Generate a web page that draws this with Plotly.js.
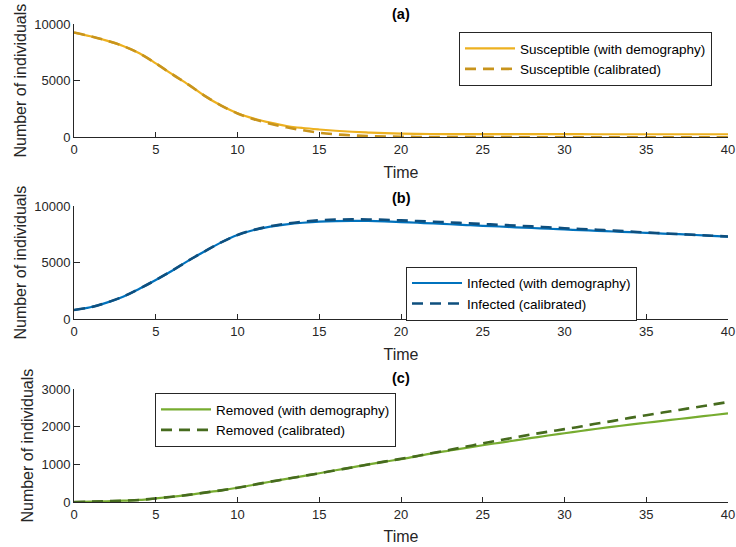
<!DOCTYPE html>
<html>
<head>
<meta charset="utf-8">
<script src="https://cdn.plot.ly/plotly-3.0.1.min.js"></script>
<style>html,body{margin:0;padding:0;background:#fff}#chart{width:736px;height:547px}</style>
</head>
<body>
<div id="chart"></div>
<script>
// ---- data ----
const time = [0,1,2,3,4,5,6,7,8,9,10,11,12,13,14,15,16,17,18,19,20,21,22,23,24,25,26,27,28,29,30,31,32,33,34,35,36,37,38,39,40];

const susceptibleDemography = [9250,8920,8530,8060,7410,6530,5570,4650,3650,2800,2120,1650,1290,1000,820,690,580,490,420,360,320,300,290,285,280,278,276,275,274,273,272,272,271,271,270,270,270,270,270,270,270];
const susceptibleCalibrated = [9250,8920,8530,8060,7410,6530,5570,4650,3650,2800,2100,1600,1200,880,620,400,260,170,110,70,45,30,22,18,15,13,12,11,10,10,9,9,8,8,8,7,7,7,7,7,7];

const infectedDemography = [820,1060,1470,2000,2700,3470,4290,5180,6000,6790,7440,7880,8180,8380,8520,8620,8670,8690,8680,8640,8580,8520,8460,8390,8320,8250,8190,8120,8060,7990,7930,7870,7810,7750,7690,7630,7570,7510,7440,7370,7300];
const infectedCalibrated = [820,1060,1470,2000,2700,3470,4290,5180,6000,6790,7440,7890,8220,8450,8620,8740,8800,8820,8810,8780,8730,8670,8610,8550,8480,8410,8340,8270,8200,8120,8040,7970,7900,7830,7750,7660,7590,7520,7450,7380,7310];

const removedDemography = [0,8,20,35,55,95,140,190,250,310,380,460,540,615,690,765,845,920,1000,1075,1140,1220,1300,1370,1440,1510,1575,1640,1705,1770,1830,1890,1950,2005,2060,2110,2160,2210,2260,2310,2360];
const removedCalibrated = [0,8,20,35,55,95,140,190,250,310,380,460,540,615,690,765,845,920,1000,1075,1150,1225,1310,1390,1475,1560,1640,1720,1800,1870,1940,2010,2090,2160,2240,2310,2380,2450,2520,2590,2660];

const xTickVals = [0,5,10,15,20,25,30,35,40];
const xTickText = ['0','5','10','15','20','25','30','35','40'];
const yTickValsAB = [0,5000,10000];
const yTickTextAB = ['0','5000','10000'];
const yTickValsC = [0,1000,2000,3000];
const yTickTextC = ['0','1000','2000','3000'];

const panelTitles = ['(a)','(b)','(c)'];
const seriesNames = [
  'Susceptible (with demography)','Susceptible (calibrated)',
  'Infected (with demography)','Infected (calibrated)',
  'Removed (with demography)','Removed (calibrated)'
];

// ---- styles ----
const FONT = 'Liberation Sans, Arial, Helvetica, sans-serif';
const AX = '#262626';
const DASH = '11px,7px';

const traces = [
  {x: time, y: susceptibleDemography, name: seriesNames[0], xaxis:'x', yaxis:'y', legend:'legend',
   mode:'lines', line:{color:'#EDB120', width:2.2, shape:'spline'}},
  {x: time, y: susceptibleCalibrated, name: seriesNames[1], xaxis:'x', yaxis:'y', legend:'legend',
   mode:'lines', line:{color:'#C8941C', width:2.6, dash:DASH, shape:'spline'}},
  {x: time, y: infectedDemography, name: seriesNames[2], xaxis:'x2', yaxis:'y2', legend:'legend2',
   mode:'lines', line:{color:'#0072BD', width:2.2, shape:'spline'}},
  {x: time, y: infectedCalibrated, name: seriesNames[3], xaxis:'x2', yaxis:'y2', legend:'legend2',
   mode:'lines', line:{color:'#0E4F7E', width:2.6, dash:DASH, shape:'spline'}},
  {x: time, y: removedDemography, name: seriesNames[4], xaxis:'x3', yaxis:'y3', legend:'legend3',
   mode:'lines', line:{color:'#77AC30', width:2.2, shape:'spline'}},
  {x: time, y: removedCalibrated, name: seriesNames[5], xaxis:'x3', yaxis:'y3', legend:'legend3',
   mode:'lines', line:{color:'#466B1E', width:2.6, dash:DASH, shape:'spline'}}
];

function xAxis(anchor){
  return {
    anchor: anchor, domain:[0,1], range:[0,40],
    tickmode:'array', tickvals: xTickVals, ticktext: xTickText,
    ticks:'inside', ticklen:5, tickwidth:1, tickcolor:AX,
    showline:true, linecolor:AX, linewidth:1, mirror:false,
    showgrid:false, zeroline:false,
    tickfont:{family:FONT, size:13, color:AX},
    title:{text:'Time', font:{family:FONT, size:16, color:AX}, standoff:10}
  };
}
function yAxis(anchor, domain, range, vals, text){
  return {
    anchor: anchor, domain: domain, range: range,
    tickmode:'array', tickvals: vals, ticktext: text,
    ticks:'inside', ticklen:6, tickwidth:1, tickcolor:AX,
    showline:true, linecolor:AX, linewidth:1, mirror:false,
    showgrid:false, zeroline:false,
    tickfont:{family:FONT, size:13, color:AX},
    title:{text:'Number of individuals', font:{family:FONT, size:16, color:AX}, standoff:3}
  };
}
function legendAt(x, y){
  return {
    x: x, y: y, xanchor:'left', yanchor:'top', xref:'paper', yref:'paper',
    bgcolor:'#ffffff', bordercolor:AX, borderwidth:1,
    font:{family:FONT, size:13.5, color:'#000'},
    tracegroupgap:0, itemwidth:50
  };
}

const H = 547;
const layout = {
  width:736, height:547,
  margin:{l:74, r:8, t:0, b:0},
  paper_bgcolor:'#ffffff', plot_bgcolor:'#ffffff',
  showlegend:true,
  xaxis: xAxis('y'),
  yaxis: yAxis('x', [1-137.3/H, 1-24/H], [0,10000], yTickValsAB, yTickTextAB),
  xaxis2: xAxis('y2'),
  yaxis2: yAxis('x2', [1-319.3/H, 1-206/H], [0,10000], yTickValsAB, yTickTextAB),
  xaxis3: xAxis('y3'),
  yaxis3: yAxis('x3', [1-502/H, 1-389.3/H], [0,3000], yTickValsC, yTickTextC),
  legend: legendAt((459-74)/654, 1-32/H),
  legend2: legendAt((406-74)/654, 1-266.7/H),
  legend3: legendAt((155-74)/654, 1-393/H),
  annotations: [
    {text:'<b>'+panelTitles[0]+'</b>', xref:'paper', yref:'paper', x:0.5, y:1-14/H, showarrow:false, xanchor:'center', yanchor:'middle', font:{family:FONT, size:14.5, color:'#000'}},
    {text:'<b>'+panelTitles[1]+'</b>', xref:'paper', yref:'paper', x:0.5, y:1-197.5/H, showarrow:false, xanchor:'center', yanchor:'middle', font:{family:FONT, size:14.5, color:'#000'}},
    {text:'<b>'+panelTitles[2]+'</b>', xref:'paper', yref:'paper', x:0.5, y:1-378/H, showarrow:false, xanchor:'center', yanchor:'middle', font:{family:FONT, size:14.5, color:'#000'}}
  ]
};

Plotly.newPlot('chart', traces, layout, {displayModeBar:false, staticPlot:true});
</script>
</body>
</html>
